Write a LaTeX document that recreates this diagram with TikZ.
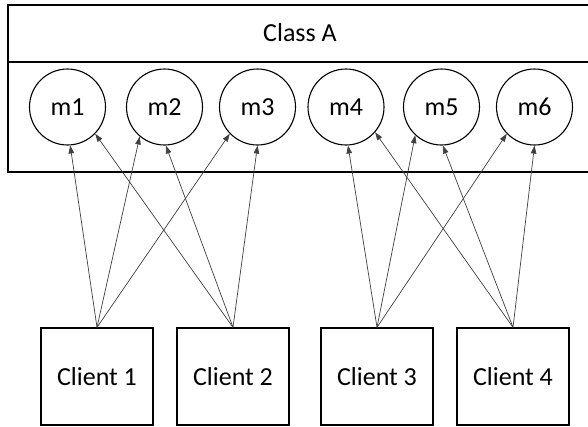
\documentclass[tikz,border=0pt]{standalone}
\usepackage{fontspec}
\setmainfont{Carlito}
\usetikzlibrary{arrows.meta}
\begin{document}
\begin{tikzpicture}[x=1pt,y=-1pt,
  frame/.style={draw=black,line width=1.3pt},
  label/.style={font=\fontsize{26}{29}\selectfont},
  method/.style={label,draw=black,line width=1.1pt,circle,minimum size=76pt,inner sep=0pt},
  client/.style={label,draw=black,line width=1.3pt,rectangle,minimum width=112pt,minimum height=97pt,inner sep=0pt},
  call/.style={draw=black!75,line width=0.7pt,-{Triangle[length=8pt,width=5.5pt]}}]
\useasboundingbox (0,0) rectangle (588,426);
\fill[white] (0,0) rectangle (588,426);

% class container (open on the right)
\draw[frame] (592,5) -- (8,5) -- (8,172) -- (592,172);
\draw[frame] (8,62) -- (592,62);
\node[label] (cls) at (300,33) {Class A};

% methods
\node[method] (m1) at (67.5,107) {m1};
\node[method] (m2) at (164.5,107) {m2};
\node[method] (m3) at (257.5,107) {m3};
\node[method] (m4) at (346,107) {m4};
\node[method] (m5) at (441.5,107) {m5};
\node[method] (m6) at (534.5,107) {m6};

% clients
\node[client] (c1) at (97,376.5) {Client 1};
\node[client] (c2) at (233,376.5) {Client 2};
\node[client] (c3) at (377,376.5) {Client 3};
\node[client] (c4) at (513,376.5) {Client 4};

% calls from clients to methods
\draw[call] (c1.north) -- (m1.-86);
\draw[call] (c1.north) -- (m2.-130);
\draw[call] (c1.north) -- (m3.-136);
\draw[call] (c2.north) -- (m1.-44);
\draw[call] (c2.north) -- (m2.-88);
\draw[call] (c2.north) -- (m3.-90);
\draw[call] (c3.north) -- (m4.-87);
\draw[call] (c3.north) -- (m5.-133);
\draw[call] (c3.north) -- (m6.-136);
\draw[call] (c4.north) -- (m4.-41);
\draw[call] (c4.north) -- (m5.-88);
\draw[call] (c4.north) -- (m6.-90);
\end{tikzpicture}
\end{document}
